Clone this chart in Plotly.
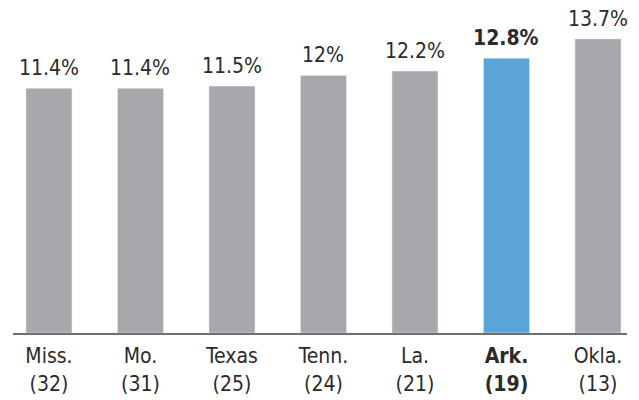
import plotly.graph_objects as go

states = ["Miss.", "Mo.", "Texas", "Tenn.", "La.", "Ark.", "Okla."]
ranks = [32, 31, 25, 24, 21, 19, 13]
values = [11.4, 11.4, 11.5, 12.0, 12.2, 12.8, 13.7]
value_labels = ["11.4%", "11.4%", "11.5%", "12%", "12.2%", "12.8%", "13.7%"]
highlight = "Ark."

GREY = "#a7a8ac"
BLUE = "#5ca5d9"
TEXT = "#2b2b2b"
FONT = "Liberation Sans Narrow, DejaVu Sans Condensed, Arial Narrow, sans-serif"

xs = list(range(len(states)))
colors = [BLUE if s == highlight else GREY for s in states]

ticktext = []
for s, r in zip(states, ranks):
    if s == highlight:
        ticktext.append(f"<b>{s}</b><br><b>({r})</b>")
    else:
        ticktext.append(f"{s}<br>({r})")

fig = go.Figure(go.Bar(x=xs, y=values, marker_color=colors, width=0.503,
                       hoverinfo="skip"))

for x, v, lab, s in zip(xs, values, value_labels, states):
    fig.add_annotation(x=x, y=v, text=f"<b>{lab}</b>" if s == highlight else lab,
                       showarrow=False, yanchor="bottom", yshift=6,
                       font=dict(size=21, color=TEXT, family=FONT))

# page body has an 8px margin; size the figure so the visible area is 639x400
fig.update_layout(
    width=631, height=392,
    margin=dict(l=5, r=12, t=12, b=67, autoexpand=False),
    paper_bgcolor="white", plot_bgcolor="white",
    showlegend=False,
    font=dict(family=FONT, color=TEXT, size=21),
    xaxis=dict(range=[-0.393, 6.317], tickmode="array", tickvals=xs,
               ticktext=ticktext, showline=True, linecolor="#6f6f6f",
               linewidth=2, showgrid=False, zeroline=False, ticks="",
               automargin=False, ticklabelstandoff=3,
               tickfont=dict(size=21, color=TEXT, family=FONT)),
    yaxis=dict(range=[0, 14.58], visible=False, showgrid=False, zeroline=False,
               automargin=False),
)

fig.write_html("out.html")
